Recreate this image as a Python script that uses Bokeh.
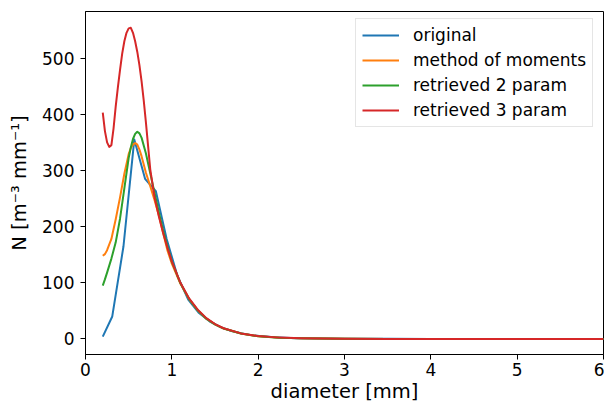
from bokeh.plotting import figure
from bokeh.models import Range1d, FixedTicker, Legend, LegendItem
from bokeh.embed import file_html
from bokeh.resources import INLINE

# ---- data ----
d_orig = [0.2, 0.31, 0.44, 0.565, 0.69, 0.73, 0.815, 0.94, 1.065, 1.19, 1.315, 1.44,
          1.565, 1.69, 1.815, 1.94, 2.19, 2.44, 2.69, 3.0, 3.5, 4.0, 5.0, 6.0]
n_orig = [4, 40, 165, 355, 285, 278, 263, 178, 112, 70, 46, 31,
          21, 14, 9.5, 6.3, 3.0, 1.4, 0.7, 0.3, 0.08, 0.02, 0.0, 0.0]

d_fit = [0.2, 0.225, 0.25, 0.3, 0.35, 0.4, 0.45, 0.5, 0.525, 0.55, 0.575, 0.6, 0.625,
         0.65, 0.7, 0.75, 0.8, 0.85, 0.9, 0.95, 1.0, 1.1, 1.2, 1.3, 1.4, 1.5, 1.6,
         1.8, 2.0, 2.25, 2.5, 3.0, 3.5, 4.0, 5.0, 6.0]
n_moments = [148, 151, 158, 178, 213, 252, 294, 329, 340, 346, 349, 346, 337,
             325, 296, 272, 247, 220, 188, 157, 134, 98, 71, 51, 36, 26, 18.5,
             9.5, 4.8, 2.2, 1.0, 0.22, 0.05, 0.01, 0.0, 0.0]
n_ret2 = [95, 106, 118, 143, 172, 214, 268, 322, 341, 356, 365, 369, 366,
          358, 330, 295, 260, 225, 192, 164, 138, 99, 71, 51, 36, 26, 18.5,
          9.5, 4.8, 2.2, 1.0, 0.22, 0.05, 0.01, 0.0, 0.0]

d_ret3 = [0.2, 0.225, 0.25, 0.275, 0.3, 0.325, 0.35, 0.375, 0.4, 0.425, 0.45, 0.475,
          0.5, 0.525, 0.55, 0.575, 0.6, 0.625, 0.65, 0.675, 0.7, 0.75, 0.8, 0.85,
          0.9, 0.95, 1.0, 1.1, 1.2, 1.3, 1.4, 1.5, 1.6, 1.8, 2.0, 2.25, 2.5, 3.0,
          3.5, 4.0, 5.0, 6.0]
n_ret3 = [403, 370, 350, 342, 345, 375, 414, 448, 479, 508, 530, 545,
          553, 554, 545, 530, 511, 487, 458, 424, 385, 302, 252, 218,
          188, 162, 138, 100, 72, 52, 37, 26.5, 19, 9.8, 5.0, 2.3, 1.1, 0.25,
          0.06, 0.01, 0.0, 0.0]

x_ticks = [0, 1, 2, 3, 4, 5, 6]
y_ticks = [0, 100, 200, 300, 400, 500]
labels = ["original", "method of moments", "retrieved 2 param", "retrieved 3 param"]
colors = ["#1f77b4", "#ff7f0e", "#2ca02c", "#d62728"]

FONT = "DejaVu Sans"

p = figure(width=604, height=406, output_backend="svg", toolbar_location=None,
           x_range=Range1d(0, 6), y_range=Range1d(-27.75, 583),
           min_border_left=85, min_border_right=1, min_border_top=11,
           min_border_bottom=52)

p.grid.visible = False
p.outline_line_color = "black"
p.outline_line_width = 1
p.background_fill_color = "white"
p.border_fill_color = "white"

for ax in (p.xaxis[0], p.yaxis[0]):
    ax.axis_line_color = "black"
    ax.axis_line_width = 1
    ax.major_tick_in = 0
    ax.major_tick_out = 5
    ax.major_tick_line_color = "black"
    ax.minor_tick_line_color = None
    ax.major_label_text_font = FONT
    ax.major_label_text_font_size = "17px"
    ax.major_label_text_color = "black"
    ax.axis_label_text_font = FONT
    ax.axis_label_text_font_size = "19.5px"
    ax.axis_label_text_font_style = "normal"
    ax.axis_label_text_color = "black"

p.xaxis.ticker = FixedTicker(ticks=x_ticks)
p.yaxis.ticker = FixedTicker(ticks=y_ticks)
p.xaxis.axis_label = "diameter [mm]"
p.yaxis.axis_label = "N [m\u207b\u00b3 mm\u207b\u00b9]"
p.xaxis.major_label_standoff = 3
p.xaxis.axis_label_standoff = 1
p.yaxis.major_label_standoff = 6
p.yaxis.axis_label_standoff = 8

series = [(d_orig, n_orig), (d_fit, n_moments), (d_fit, n_ret2), (d_ret3, n_ret3)]
items = []
for (xs, ys), lab, col in zip(series, labels, colors):
    r = p.line(xs, ys, line_color=col, line_width=2, line_join="round")
    items.append(LegendItem(label=lab, renderers=[r]))

legend = Legend(items=items, location=(270, 227))
legend.label_text_font = FONT
legend.label_text_font_size = "17px"
legend.label_text_color = "black"
legend.glyph_width = 37
legend.glyph_height = 20
legend.label_height = 20
legend.label_standoff = 14
legend.spacing = 5
legend.padding = 6
legend.margin = 0
legend.border_line_color = "#cccccc"
legend.border_line_width = 1
legend.background_fill_color = "white"
legend.background_fill_alpha = 0.8
p.add_layout(legend, "center")

open("out.html", "w").write(file_html(p, INLINE))
